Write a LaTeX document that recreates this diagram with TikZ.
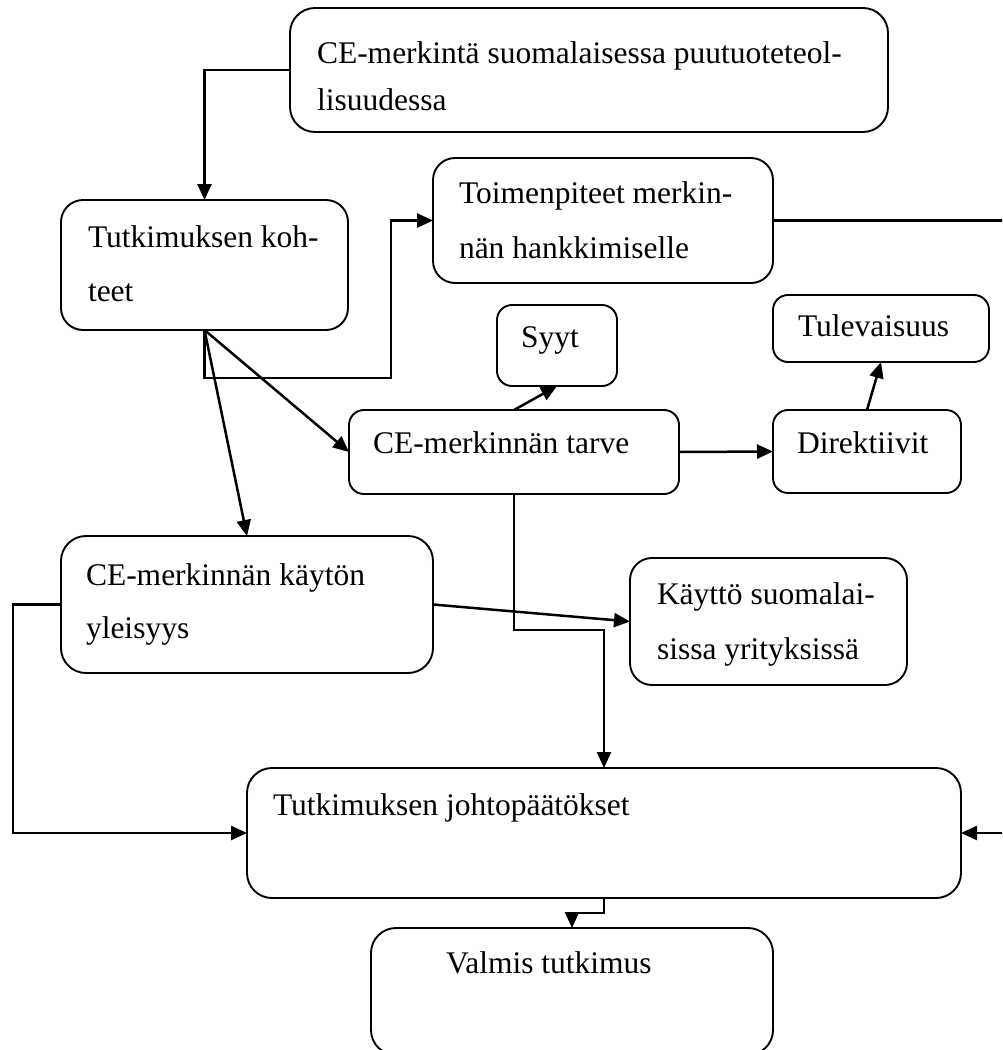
\documentclass[tikz,border=0pt]{standalone}
\usepackage{fontspec}
\setmainfont{Liberation Serif}
\usetikzlibrary{arrows.meta}
\begin{document}
\begin{tikzpicture}[x=1pt,y=-1pt,
  box/.style={draw, line width=1.9pt, rounded corners=22pt, inner sep=0pt, outer sep=0pt},
  sbox/.style={box, rounded corners=15pt},
  lbl/.style={anchor=base west, inner sep=0pt, outer sep=0pt, font=\fontsize{31.5}{40}\selectfont},
  arr/.style={line width=2.5pt, -{Triangle[length=16pt,width=14pt]}},
  con/.style={line width=2.5pt}]
\clip (0,0) rectangle (1002,1050);
\useasboundingbox (0,0) rectangle (1002,1050);
% boxes
\node[box, rounded corners=25pt, minimum width=598pt, minimum height=124pt] (A) at (589,70) {};
\node[box, minimum width=287pt, minimum height=130pt] (B) at (204.5,265) {};
\node[box, minimum width=340pt, minimum height=125pt] (C) at (603,220.5) {};
\node[sbox, minimum width=120pt, minimum height=81pt] (D) at (557,345.5) {};
\node[sbox, minimum width=330pt, minimum height=84pt] (E) at (514,452) {};
\node[sbox, minimum width=188pt, minimum height=83pt] (F) at (867,451.5) {};
\node[sbox, minimum width=216pt, minimum height=67pt] (G) at (881,328.5) {};
\node[box, rounded corners=25pt, minimum width=372pt, minimum height=137pt] (H) at (247,604.5) {};
\node[box, minimum width=277pt, minimum height=127pt] (I) at (768.5,621.5) {};
\node[box, rounded corners=25pt, minimum width=714pt, minimum height=130pt] (J) at (604,833) {};
\node[box, rounded corners=25pt, minimum width=402pt, minimum height=127pt] (K) at (572,991.5) {};
% texts
\node[lbl] (ta1) at (317,63) {CE-merkintä suomalaisessa puutuoteteol-};
\node[lbl] (ta2) at (317,110) {lisuudessa};
\node[lbl] (tb1) at (88,247) {Tutkimuksen koh-};
\node[lbl] (tb2) at (88,301) {teet};
\node[lbl] (tc1) at (459,203) {Toimenpiteet merkin-};
\node[lbl] (tc2) at (459,258) {nän hankkimiselle};
\node[lbl] (td) at (521,347) {Syyt};
\node[lbl] (te) at (373,453) {CE-merkinnän tarve};
\node[lbl] (tf) at (797,453) {Direktiivit};
\node[lbl] (tg) at (798,336) {Tulevaisuus};
\node[lbl] (th1) at (86,585) {CE-merkinnän käytön};
\node[lbl] (th2) at (86,638) {yleisyys};
\node[lbl] (ti1) at (657,604) {Käyttö suomalai-};
\node[lbl] (ti2) at (657,659) {sissa yrityksissä};
\node[lbl] (tj) at (273,815) {Tutkimuksen johtopäätökset};
\node[lbl] (tk) at (446,973) {Valmis tutkimus};
% helper coordinates
\coordinate (b1) at (391,378);
\coordinate (r2) at (1012,833);
\coordinate (l1) at (13,833);
\coordinate (e1) at (604,630);
\coordinate (j1) at (604,913);
% connectors
\draw[arr] (A.west) -| (B.north);
\draw[arr] (B.south) |- (b1) |- (C.west);
\draw[arr] (B.south) -- (E.west);
\draw[arr] (B.south) -- (H.north);
\draw[arr] (E.north) -- (D.south);
\draw[arr] (E.east) -- (F.west);
\draw[arr] (F.north) -- (G.south);
\draw[arr] (C.east) -| (r2) -- (J.east);
\draw[arr] (H.west) -| (l1) -- (J.west);
\draw[arr] (H.east) -- (I.west);
\draw[arr] (E.south) |- (e1) -- (J.north);
\draw[arr] (J.south) -- (j1) -| (K.north);
\end{tikzpicture}
\end{document}
